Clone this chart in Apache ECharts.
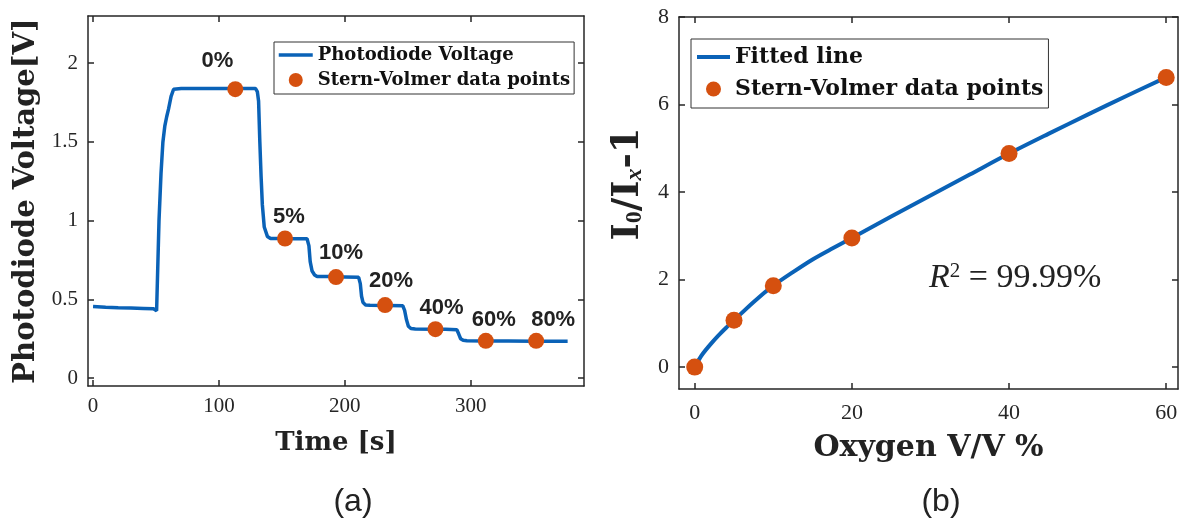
<!DOCTYPE html>
<html>
<head>
<meta charset="utf-8">
<script src="https://cdn.jsdelivr.net/npm/echarts@6/dist/echarts.min.js"></script>
<style>
  html, body { margin: 0; padding: 0; background: #fff; }
  #chart { width: 1181px; height: 522px; }
</style>
</head>
<body>
<div id="chart"></div>
<script>
// (a) photodiode voltage trace
const timeS = [0, 10, 20, 30, 40, 48, 50.5, 51, 52.4, 54, 55.5, 57, 58.5, 60, 62, 64, 70, 80, 90, 100, 110, 120,
  129, 130.5, 131.5, 132.5, 133.5, 134.5, 136, 138.5, 141, 150, 160, 170, 171.5, 172.5, 174, 176, 178, 190, 200,
  211, 212.3, 213.3, 214.5, 216.5, 220, 235, 246, 247.5, 249, 250.5, 252.5, 256, 270, 280, 289, 290.5, 292, 294,
  297, 310, 330, 350, 377]
const voltage = [0.455, 0.45, 0.447, 0.445, 0.443, 0.44, 0.428, 0.42, 1.0, 1.3, 1.5, 1.6, 1.66, 1.71, 1.79, 1.835,
  1.84, 1.84, 1.84, 1.84, 1.84, 1.84,
  1.84, 1.82, 1.76, 1.5, 1.28, 1.1, 0.96, 0.9, 0.887, 0.887, 0.886, 0.885, 0.84, 0.74, 0.68, 0.655, 0.645, 0.645, 0.643,
  0.64, 0.6, 0.52, 0.48, 0.465, 0.463, 0.462, 0.46, 0.43, 0.37, 0.33, 0.315, 0.312, 0.31, 0.31, 0.307, 0.28, 0.25, 0.24,
  0.237, 0.236, 0.236, 0.235, 0.234]

// (a) Stern-Volmer sampling points
const spTime = [113, 152.5, 193, 232, 272, 312, 352]
const spVoltage = [1.835, 0.887, 0.642, 0.464, 0.311, 0.237, 0.237]
const spLabels = ['0%', '5%', '10%', '20%', '40%', '60%', '80%']

// (b) Stern-Volmer plot
const oxygen = [0, 5, 10, 20, 40, 60]
const quench = [0, 1.07, 1.86, 2.95, 4.88, 6.62]
const fitX = [0, 0.5, 1, 2, 3, 4, 5, 7.5, 10, 12.5, 15, 17.5, 20, 25, 30, 35, 40, 45, 50, 55, 60]
const fitY = [0, 0.16, 0.3, 0.52, 0.72, 0.9, 1.07, 1.49, 1.86, 2.17, 2.46, 2.71, 2.95, 3.44, 3.92, 4.40, 4.88, 5.33, 5.77, 6.20, 6.62]

// tick labels
const timeTicks = [0, 100, 200, 300]
const voltTicks = [0, 0.5, 1, 1.5, 2]
const oxyTicks = [0, 20, 40, 60]
const quenchTicks = [0, 2, 4, 6, 8]

// nudges for the % labels (layout only)
const labelNudge = [[-18, -4], [4, 2], [5, 0], [6, 0], [6, 3], [8, 3], [17, 3]]

const BLUE = '#0a62b7'
const ORANGE = '#d5500f'
const INK = '#262626'
const serif = 'DejaVu Serif'
const tickFont = 'Liberation Serif'

function boxAxis (gridIndex, position, min, max, ticks, labelled, extra) {
  return Object.assign({
    type: 'value',
    gridIndex: gridIndex,
    position: position,
    min: min,
    max: max,
    axisLine: { show: true, onZero: false, lineStyle: { color: INK, width: 1.5 } },
    axisTick: { show: true, inside: true, length: 6, customValues: ticks, lineStyle: { color: INK, width: 1.5 } },
    axisLabel: { show: labelled, customValues: ticks, margin: 10, color: INK, fontFamily: tickFont, fontSize: 21 },
    splitLine: { show: false }
  }, extra || {})
}

const chart = echarts.init(document.getElementById('chart'))

chart.setOption({
  animation: false,
  backgroundColor: '#fff',
  grid: [
    { left: 88, top: 16, width: 496, height: 370 },
    { left: 679, top: 17, width: 499, height: 372 }
  ],
  xAxis: [
    boxAxis(0, 'bottom', -4, 390, timeTicks, true, {
      name: 'Time [s]', nameLocation: 'middle', nameGap: 44,
      nameTextStyle: { fontFamily: serif, fontWeight: 'bold', fontSize: 26, color: '#222' }
    }),
    boxAxis(0, 'top', -4, 390, timeTicks, false),
    boxAxis(1, 'bottom', -2, 61.5, oxyTicks, true, {
      axisLabel: { customValues: oxyTicks, margin: 13, color: INK, fontFamily: tickFont, fontSize: 22 },
      name: 'Oxygen V/V %', nameLocation: 'middle', nameGap: 44,
      nameTextStyle: { fontFamily: serif, fontWeight: 'bold', fontSize: 30, color: '#222' }
    }),
    boxAxis(1, 'top', -2, 61.5, oxyTicks, false)
  ],
  yAxis: [
    boxAxis(0, 'left', -0.05, 2.3, voltTicks, true, {
      name: 'Photodiode Voltage[V]', nameLocation: 'middle', nameGap: 47,
      nameTextStyle: { fontFamily: serif, fontWeight: 'bold', fontSize: 29, color: '#222' }
    }),
    boxAxis(0, 'right', -0.05, 2.3, voltTicks, false),
    boxAxis(1, 'left', -0.5, 8, quenchTicks, true, {
      axisLabel: { customValues: quenchTicks, margin: 10, color: INK, fontFamily: tickFont, fontSize: 22 },
      name: '{b|I}{sub|0}{b|/I}{subi|x}{b|-1}', nameLocation: 'middle', nameGap: 32,
      nameTextStyle: {
        fontFamily: serif, fontWeight: 'bold', fontSize: 37, color: '#222',
        padding: [0, 0, 0, 38],
        rich: {
          b: { fontFamily: serif, fontWeight: 'bold', fontSize: 37, color: '#222' },
          sub: { fontFamily: tickFont, fontSize: 24, color: '#222', verticalAlign: 'bottom' },
          subi: { fontFamily: tickFont, fontStyle: 'italic', fontSize: 24, color: '#222', verticalAlign: 'bottom' }
        }
      }
    }),
    boxAxis(1, 'right', -0.5, 8, quenchTicks, false)
  ],
  legend: [
    {
      data: [{ name: 'Photodiode Voltage', itemStyle: { opacity: 0 } }, 'Stern-Volmer data points'],
      orient: 'vertical', left: 274, top: 42,
      padding: [3, 4, 4, 3], itemGap: 5, itemWidth: 34, itemHeight: 14,
      backgroundColor: '#fff', borderColor: '#333', borderWidth: 1,
      lineStyle: { width: 3.5 },
      textStyle: { fontFamily: serif, fontWeight: 'bold', fontSize: 18, lineHeight: 20, color: '#111' }
    },
    {
      data: [{ name: 'Fitted line', itemStyle: { opacity: 0 } }, 'Stern-Volmer data points'],
      orient: 'vertical', left: 691, top: 39,
      padding: [6, 5, 7, 4], itemGap: 8, itemWidth: 33, itemHeight: 15,
      backgroundColor: '#fff', borderColor: '#333', borderWidth: 1,
      lineStyle: { width: 4 },
      textStyle: { fontFamily: serif, fontWeight: 'bold', fontSize: 22, lineHeight: 24, color: '#111' }
    }
  ],
  series: [
    {
      name: 'Photodiode Voltage',
      type: 'line',
      xAxisIndex: 0, yAxisIndex: 0,
      symbol: 'none',
      lineStyle: { color: BLUE, width: 3.5 },
      itemStyle: { color: BLUE },
      data: timeS.map((t, i) => [t, voltage[i]]),
      z: 2
    },
    {
      name: 'Stern-Volmer data points',
      type: 'scatter',
      xAxisIndex: 0, yAxisIndex: 0,
      symbolSize: 16,
      itemStyle: { color: ORANGE, opacity: 1 },
      label: {
        show: true, position: 'top', distance: 5,
        formatter: p => spLabels[p.dataIndex],
        fontFamily: 'Liberation Sans', fontWeight: 'bold', fontSize: 22, color: '#222'
      },
      data: spTime.map((t, i) => ({ value: [t, spVoltage[i]], label: { offset: labelNudge[i] } })),
      z: 3
    },
    {
      name: 'Fitted line',
      type: 'line',
      xAxisIndex: 2, yAxisIndex: 2,
      symbol: 'none',
      smooth: 0.3,
      lineStyle: { color: BLUE, width: 4 },
      itemStyle: { color: BLUE },
      data: fitX.map((x, i) => [x, fitY[i]]),
      z: 2
    },
    {
      name: 'Stern-Volmer data points',
      type: 'scatter',
      xAxisIndex: 2, yAxisIndex: 2,
      symbolSize: 17,
      itemStyle: { color: ORANGE, opacity: 1 },
      data: oxygen.map((x, i) => [x, quench[i]]),
      z: 3
    }
  ],
  graphic: [
    {
      type: 'text', x: 929, y: 278, z: 10,
      style: {
        text: '{i|R}{sup|2}{n| = 99.99%}',
        verticalAlign: 'middle',
        rich: {
          i: { fontFamily: tickFont, fontStyle: 'italic', fontSize: 34, fill: '#222' },
          sup: { fontFamily: tickFont, fontSize: 21, fill: '#222', verticalAlign: 'top' },
          n: { fontFamily: tickFont, fontSize: 34, fill: '#222' }
        }
      }
    },
    {
      type: 'text', x: 353, y: 502, z: 10,
      style: { text: '(a)', align: 'center', verticalAlign: 'middle', fontFamily: 'Liberation Sans', fontSize: 32, fill: '#222' }
    },
    {
      type: 'text', x: 941, y: 502, z: 10,
      style: { text: '(b)', align: 'center', verticalAlign: 'middle', fontFamily: 'Liberation Sans', fontSize: 32, fill: '#222' }
    }
  ]
})
</script>
</body>
</html>
